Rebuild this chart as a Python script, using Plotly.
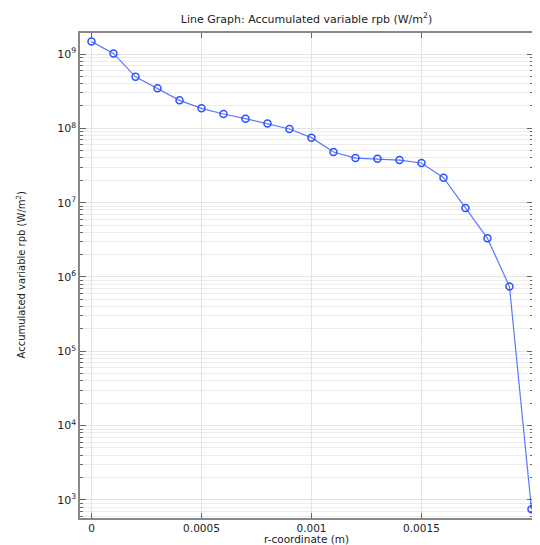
import plotly.graph_objects as go

r_coord = [0, 0.0001, 0.0002, 0.0003, 0.0004, 0.0005, 0.0006, 0.0007, 0.0008, 0.0009,
           0.0010, 0.0011, 0.0012, 0.0013, 0.0014, 0.0015, 0.0016, 0.0017, 0.0018, 0.0019, 0.0020]
rpb = [1.47e9, 1.02e9, 4.94e8, 3.46e8, 2.38e8, 1.86e8, 1.56e8, 1.35e8, 1.16e8, 9.8e7,
       7.5e7, 4.8e7, 3.98e7, 3.9e7, 3.74e7, 3.42e7, 2.17e7, 8.5e6, 3.31e6, 7.47e5, 750]

x_tickvals = [0, 0.0005, 0.001, 0.0015]
x_ticktext = ["0", "0.0005", "0.001", "0.0015"]
y_tickvals = [1e3, 1e4, 1e5, 1e6, 1e7, 1e8, 1e9]
y_ticktext = ["10<sup>3</sup>", "10<sup>4</sup>", "10<sup>5</sup>", "10<sup>6</sup>",
              "10<sup>7</sup>", "10<sup>8</sup>", "10<sup>9</sup>"]

FONT = "DejaVu Sans"
OFF = 8  # page body margin offset
W, H = 540 - OFF, 545 - OFF
L, R, T, B = 80 - OFF, 7, 33 - OFF, 27

fig = go.Figure()
fig.add_trace(go.Scatter(
    x=r_coord, y=rpb, mode="lines+markers",
    line=dict(color="#5a78ff", width=1.2),
    marker=dict(symbol="circle-open", size=7, color="#2f50ff", line=dict(width=1.5, color="#2f50ff")),
    showlegend=False, cliponaxis=False,
))

fig.update_layout(
    width=W, height=H,
    margin=dict(l=L, r=R, t=T, b=B, autoexpand=False),
    paper_bgcolor="white", plot_bgcolor="white",
    font=dict(family=FONT, size=11, color="#222"),
    title=dict(text="Line Graph: Accumulated variable rpb (W/m<sup>2</sup>)",
               x=(L + (W - L - R) / 2) / W, xanchor="center", y=1 - (19 - OFF) / H, yanchor="middle",
               font=dict(family=FONT, size=11, color="#222")),
    annotations=[
        dict(text="r-coordinate (m)", xref="paper", yref="paper",
             x=0.5, y=-(538.5 - OFF - (H - B)) / (H - T - B), xanchor="center", yanchor="middle",
             showarrow=False, font=dict(family=FONT, size=10.5, color="#222")),
        dict(text="Accumulated variable rpb (W/m<sup>2</sup>)", xref="paper", yref="paper",
             x=-(L - (20 - OFF)) / (W - L - R), y=0.5, xanchor="center", yanchor="middle", textangle=-90,
             showarrow=False, font=dict(family=FONT, size=10, color="#222")),
    ],
)

fig.update_xaxes(
    range=[-0.0000523, 0.002007], automargin=False,
    tickvals=x_tickvals, ticktext=x_ticktext,
    ticks="inside", ticklen=5, tickcolor="#666", tickwidth=1,
    showline=True, linecolor="#888", linewidth=1.5, mirror="ticks",
    showgrid=True, gridcolor="#e4e4e4", gridwidth=1,
    zeroline=False,
    tickfont=dict(family=FONT, size=10.5, color="#222"),
)

fig.update_yaxes(
    type="log", range=[2.757, 9.283], automargin=False,
    tickvals=y_tickvals, ticktext=y_ticktext,
    ticks="inside", ticklen=6, tickcolor="#666", tickwidth=1,
    showline=True, linecolor="#888", linewidth=1.5, mirror="ticks",
    showgrid=True, gridcolor="#e4e4e4", gridwidth=1,
    zeroline=False,
    minor=dict(ticks="inside", ticklen=3, tickcolor="#666", showgrid=True,
               gridcolor="#ececec", gridwidth=1, dtick="D1"),
    tickfont=dict(family=FONT, size=11, color="#222"),
)

fig.write_html("out.html")
